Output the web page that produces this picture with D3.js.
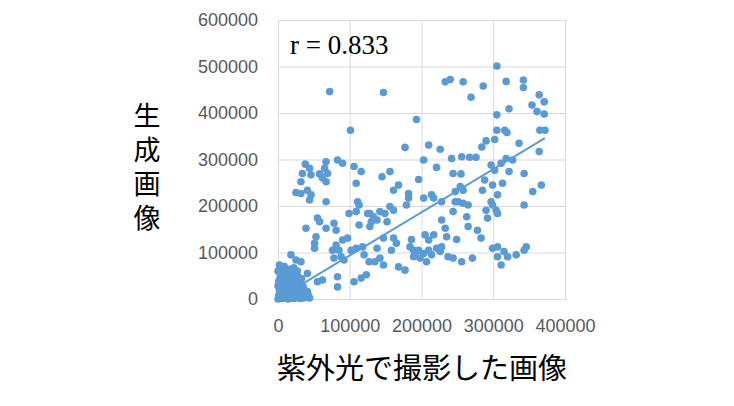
<!DOCTYPE html>
<html>
<head>
<meta charset="utf-8">
<script src="https://cdn.jsdelivr.net/npm/d3@7"></script>
<style>
  body { margin: 0; background: #fff; }
  svg { display: block; }
</style>
</head>
<body>
<div id="chart-area"></div>
<script>
// tick values
const xTicks = [0, 100000, 200000, 300000, 400000]
const yTicks = [0, 100000, 200000, 300000, 400000, 500000, 600000]

// points (thousands): x = UV photo, y = generated image
const uvK = [
  // low-left cluster
  0,3,6,10,14,18,22,27,31,36,40,44,
  1,5,9,13,17,21,25,29,33,38,42,
  2,7,11,15,19,24,28,32,37,41,
  0,4,8,12,17,22,26,31,35,
  1,6,10,15,20,24,29,33,
  3,8,13,18,23,28,
  0,5,11,16,22,2,9,27,
  // left band
  38,44,34,46,58,67,65,69,62,67,32,83,90,106,116,25,32,41,46,44,67,109,111,113,99,109,125,130,113,55,58,39,67,78,81,53,51,51,76,81,90,97,85,88,78,92,102,109,118,120,127,18,25,32,41,55,62,83,83,106,116,123,
  // middle band
  203,242,256,221,244,255,145,156,196,161,168,182,182,203,214,217,254,258,247,228,247,251,258,265,244,128,133,142,149,156,161,138,152,128,179,263,265,228,233,235,249,205,217,210,186,184,147,161,165,158,138,189,191,196,203,210,221,228,226,189,198,207,214,237,244,256,142,147,135,168,177,
  // right band
  267,276,297,302,311,318,327,322,343,364,288,285,299,313,306,297,299,290,304,306,292,343,355,367,278,283,299,306,306,315,320,332,311,343,346,271,
  // upper points
  72,147,101,233,240,258,286,269,305,318,342,342,322,354,364,371,361,371,305,305,316,319,302,290,284,336,365,372,193,177,210,226
]
const genK = [
  0,2,1,3,0,2,1,3,1,2,4,2,
  8,10,7,11,8,12,9,13,10,12,9,
  18,20,16,22,18,21,17,22,19,16,
  28,30,26,31,28,33,29,32,27,
  38,41,36,40,37,43,39,44,
  48,52,47,50,55,48,
  60,63,58,64,67,73,70,60,
  290,281,270,267,269,295,281,270,260,252,252,299,292,285,274,229,227,234,224,213,209,249,209,202,184,188,184,166,159,174,166,152,152,163,148,134,120,109,105,116,127,131,105,91,88,84,105,109,112,95,80,95,84,80,55,37,41,48,26,37,45,52,
  299,302,306,283,270,269,263,274,257,234,245,227,217,217,224,217,242,234,231,209,209,209,206,202,188,184,177,188,184,199,191,170,166,156,202,177,156,170,152,134,128,138,138,127,128,112,131,131,120,105,109,105,95,105,98,105,109,112,102,91,88,80,95,91,88,80,88,73,80,69,62,
  305,305,288,277,292,302,299,274,270,317,256,234,245,249,224,209,202,191,191,184,174,202,231,245,148,131,109,112,91,102,91,95,73,105,112,88,
  446,444,363,467,472,467,458,434,501,468,471,455,409,417,439,424,403,398,396,363,363,358,343,340,327,335,363,363,386,326,331,322
]

// linear trend line end points
const trendX = [0, 372000]
const trendY = [1000, 346000]

const rLabel = "r = 0.833"
const xTitle = "紫外光で撮影した画像"
const yTitle = "生成画像"

const W = 734, H = 406
const PLOT = { LEFT: 278, RIGHT: 565, TOP: 20, BOTTOM: 299 }
const BLUE = "#5b9bd5"
const GRID = "#d9d9d9"

const points = uvK.map((v, i) => ({ x: v * 1000, y: genK[i] * 1000 }))

const svg = d3.select("#chart-area").append("svg")
  .attr("width", W)
  .attr("height", H)

svg.append("rect").attr("width", W).attr("height", H).attr("fill", "#fff")

const x = d3.scaleLinear().domain([0, 400000]).range([PLOT.LEFT, PLOT.RIGHT])
const y = d3.scaleLinear().domain([0, 600000]).range([PLOT.BOTTOM, PLOT.TOP])

// axes with grid lines
const xAxis = svg.append("g")
  .attr("transform", `translate(0, ${PLOT.BOTTOM})`)
  .call(d3.axisBottom(x).tickValues(xTicks).tickFormat(d3.format("d"))
    .tickSize(-(PLOT.BOTTOM - PLOT.TOP)))
xAxis.select(".domain").remove()
xAxis.selectAll("line").attr("stroke", GRID).attr("stroke-width", 1)
xAxis.selectAll("text")
  .attr("y", 27)
  .attr("dy", "0.35em")
  .attr("fill", "#595959")
  .attr("font-family", "'Liberation Sans', Arial, sans-serif")
  .attr("font-size", "18px")

const yAxis = svg.append("g")
  .attr("transform", `translate(${PLOT.LEFT}, 0)`)
  .call(d3.axisLeft(y).tickValues(yTicks).tickFormat(d3.format("d"))
    .tickSize(-(PLOT.RIGHT - PLOT.LEFT)).tickPadding(20))
yAxis.select(".domain").remove()
yAxis.selectAll("line").attr("stroke", GRID).attr("stroke-width", 1)
yAxis.selectAll("text")
  .attr("fill", "#595959")
  .attr("font-family", "'Liberation Sans', Arial, sans-serif")
  .attr("font-size", "18px")

// plot border
svg.append("rect")
  .attr("x", PLOT.LEFT + 0.5)
  .attr("y", PLOT.TOP + 0.5)
  .attr("width", PLOT.RIGHT - PLOT.LEFT)
  .attr("height", PLOT.BOTTOM - PLOT.TOP)
  .attr("fill", "none")
  .attr("stroke", GRID)

// points
svg.append("g").selectAll("circle")
  .data(points)
  .enter().append("circle")
  .attr("cx", d => x(d.x))
  .attr("cy", d => y(d.y))
  .attr("r", 3.8)
  .attr("fill", BLUE)

// trend line
const line = d3.line().x(d => x(d[0])).y(d => y(d[1]))
svg.append("path")
  .attr("d", line(trendX.map((v, i) => [v, trendY[i]])))
  .attr("fill", "none")
  .attr("stroke", BLUE)
  .attr("stroke-width", 2)

// r label
svg.append("text")
  .attr("x", 290)
  .attr("y", 54)
  .attr("font-family", "'Liberation Serif', 'Times New Roman', serif")
  .attr("font-size", "27px")
  .attr("fill", "#000")
  .text(rLabel)

// axis titles
svg.append("text")
  .attr("x", 422)
  .attr("y", 366)
  .attr("text-anchor", "middle")
  .attr("dominant-baseline", "central")
  .attr("font-family", "'Noto Sans CJK JP', sans-serif")
  .attr("font-size", "29px")
  .attr("fill", "#000")
  .text(xTitle)

svg.append("text")
  .attr("x", 147)
  .attr("y", 102)
  .attr("writing-mode", "vertical-rl")
  .attr("letter-spacing", "7px")
  .attr("font-family", "'Noto Sans CJK JP', sans-serif")
  .attr("font-size", "27px")
  .attr("fill", "#000")
  .text(yTitle)
</script>
</body>
</html>
